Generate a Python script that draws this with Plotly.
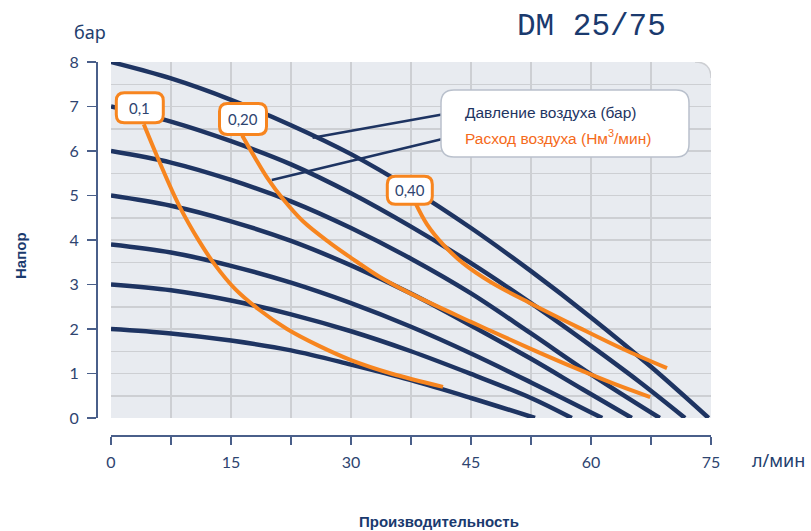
import plotly.graph_objects as go

W, H = 811, 531

# ---------------- data ----------------
flow_ticks = [0, 7.5, 15, 22.5, 30, 37.5, 45, 52.5, 60, 67.5, 75]
flow_tick_text = ["0", "", "15", "", "30", "", "45", "", "60", "", "75"]
head_ticks = [0, 1, 2, 3, 4, 5, 6, 7, 8]

# air pressure curves (bar): flow l/min vs head bar
p8_x = [0, 7.5, 15, 22.5, 30, 37.5, 45, 52.5, 60, 67.5, 74.7]
p8_y = [8.0, 7.63, 7.15, 6.58, 5.93, 5.15, 4.27, 3.3, 2.26, 1.15, 0.0]
p7_x = [0, 7.5, 15, 22.5, 30, 37.5, 45, 52.5, 60, 66, 71.75]
p7_y = [7.0, 6.66, 6.22, 5.7, 5.05, 4.3, 3.48, 2.58, 1.62, 0.82, 0.0]
p6_x = [0, 7.5, 15, 22.5, 30, 37.5, 45, 52.5, 60, 68.6]
p6_y = [6.0, 5.74, 5.35, 4.87, 4.27, 3.58, 2.8, 1.9, 0.98, 0.0]
p5_x = [0, 7.5, 15, 22.5, 30, 37.5, 45, 52.5, 59, 65.1]
p5_y = [5.0, 4.77, 4.42, 3.98, 3.43, 2.8, 2.08, 1.33, 0.64, 0.0]
p4_x = [0, 7.5, 15, 22.5, 30, 37.5, 45, 52.5, 61.4]
p4_y = [3.9, 3.72, 3.42, 3.04, 2.58, 2.05, 1.45, 0.8, 0.0]
p3_x = [0, 7.5, 15, 22.5, 30, 37.5, 45, 52.5, 57.6]
p3_y = [3.0, 2.87, 2.64, 2.33, 1.95, 1.5, 0.99, 0.45, 0.0]
p2_x = [0, 7.5, 15, 22.5, 30, 37.5, 45, 53]
p2_y = [2.0, 1.9, 1.74, 1.52, 1.2, 0.85, 0.45, 0.0]

# air consumption curves (Nm3/min)
q01_x = [4.1, 6.0, 8.5, 11, 13, 15.5, 18.4, 22, 26, 30, 35, 41.5]
q01_y = [6.6, 5.78, 4.78, 3.98, 3.44, 2.9, 2.45, 2.0, 1.62, 1.3, 1.0, 0.7]
q02_x = [16.4, 18, 19.6, 21.5, 24, 27.4, 30, 33.5, 37.4, 45, 52.4, 58.6, 63, 67.4]
q02_y = [6.35, 5.85, 5.38, 4.92, 4.42, 3.93, 3.6, 3.18, 2.8, 2.16, 1.56, 1.08, 0.76, 0.47]
q04_x = [38.0, 39.5, 41.5, 44, 47.5, 52.4, 58.6, 64, 69.5]
q04_y = [4.85, 4.35, 3.9, 3.48, 3.05, 2.58, 2.02, 1.55, 1.12]

consumption_labels = ["0,1", "0,20", "0,40"]
label_x = [3.6, 16.5, 37.35]
label_y = [6.97, 6.72, 5.12]
label_w = [47, 47, 45]
label_h = [30, 31, 28]

legend_texts = ["Давление воздуха (бар)", "Расход воздуха (Нм<sup>3</sup>/мин)"]

# ---------------- style ----------------
NAVY = "#1e3462"
ORANGE = "#f7851f"
AXIS = "#4a5f8a"
TICKTXT = "#2e4470"
GRID = "#cdcfd3"
BG = "#e8ebf0"

x_dom = [111 / W, 711 / W]
y_dom = [(H - 418) / H, (H - 62) / H]

fig = go.Figure()

for xs, ys in [(p2_x, p2_y), (p3_x, p3_y), (p4_x, p4_y), (p5_x, p5_y),
               (p6_x, p6_y), (p7_x, p7_y), (p8_x, p8_y)]:
    fig.add_trace(go.Scatter(x=xs, y=ys, mode="lines",
                             line=dict(color=NAVY, width=4.5, shape="spline", smoothing=1.0),
                             hoverinfo="skip", showlegend=False))

for xs, ys in [(q01_x, q01_y), (q02_x, q02_y), (q04_x, q04_y)]:
    fig.add_trace(go.Scatter(x=xs, y=ys, mode="lines",
                             line=dict(color=ORANGE, width=4, shape="spline", smoothing=1.0),
                             hoverinfo="skip", showlegend=False))


def rrect(w, h, r):
    x0, x1, y0, y1 = -w / 2, w / 2, -h / 2, h / 2
    return (f"M {x0 + r},{y0} L {x1 - r},{y0} Q {x1},{y0} {x1},{y0 + r} "
            f"L {x1},{y1 - r} Q {x1},{y1} {x1 - r},{y1} L {x0 + r},{y1} "
            f"Q {x0},{y1} {x0},{y1 - r} L {x0},{y0 + r} Q {x0},{y0} {x0 + r},{y0} Z")


shapes = []
# rounded top-right corner of plot area
rc = 16
shapes.append(dict(type="path", xref="x", yref="y", xsizemode="pixel", ysizemode="pixel",
                   xanchor=75, yanchor=8,
                   path=f"M {-rc},2 L 3,2 L 3,{-rc} L 0,{-rc} Q 0,0 {-rc},0 Z",
                   fillcolor="white", line=dict(width=0), layer="between"))
shapes.append(dict(type="path", xref="x", yref="y", xsizemode="pixel", ysizemode="pixel",
                   xanchor=75, yanchor=8,
                   path=f"M {-rc},0 Q 0,0 0,{-rc}",
                   line=dict(color=GRID, width=1.5), layer="between"))

# leader lines from legend
shapes.append(dict(type="line", xref="x", yref="y", x0=42.6, y0=6.86, x1=25.2, y1=6.3,
                   line=dict(color=NAVY, width=2.5), layer="above"))
shapes.append(dict(type="line", xref="x", yref="y", x0=42.6, y0=6.32, x1=20.1, y1=5.35,
                   line=dict(color=NAVY, width=2.5), layer="above"))
# legend box
shapes.append(dict(type="path", xref="x", yref="y", xsizemode="pixel", ysizemode="pixel",
                   xanchor=56.75, yanchor=6.62, path=rrect(248, 67, 13),
                   fillcolor="white", line=dict(color="#b9c0cc", width=1.5), layer="above"))
# label boxes
for lx, ly, lw, lh in zip(label_x, label_y, label_w, label_h):
    shapes.append(dict(type="path", xref="x", yref="y", xsizemode="pixel", ysizemode="pixel",
                       xanchor=lx, yanchor=ly, path=rrect(lw, lh, 8),
                       fillcolor="white", line=dict(color=ORANGE, width=3), layer="above"))

annotations = []
for t, lx, ly in zip(consumption_labels, label_x, label_y):
    annotations.append(dict(x=lx, y=ly, xref="x", yref="y", text=t, showarrow=False,
                            xanchor="center", yanchor="middle",
                            font=dict(family="Lato, Liberation Sans", size=15, color=TICKTXT)))
annotations.append(dict(x=44.0, y=6.86, xref="x", yref="y", text=legend_texts[0], showarrow=False,
                        xanchor="left", yanchor="middle",
                        font=dict(family="Liberation Sans", size=15.5, color=NAVY)))
annotations.append(dict(x=44.0, y=6.31, xref="x", yref="y", text=legend_texts[1], showarrow=False,
                        xanchor="left", yanchor="middle",
                        font=dict(family="Liberation Sans", size=15.5, color="#f56a1a")))
# titles
annotations.append(dict(x=591 / W, y=(H - 27) / H, xref="paper", yref="paper", text="DM 25/75",
                        xanchor="center", yanchor="middle", showarrow=False,
                        font=dict(family="Liberation Mono", size=31, color="#1a3a6e")))
annotations.append(dict(x=90 / W, y=(H - 32) / H, xref="paper", yref="paper", text="бар",
                        xanchor="center", yanchor="middle", showarrow=False,
                        font=dict(family="Noto Sans", size=18, color="#23406e")))
annotations.append(dict(x=750 / W, y=(H - 460) / H, xref="paper", yref="paper", text="л/мин",
                        xanchor="left", yanchor="middle", showarrow=False,
                        font=dict(family="Noto Sans", size=18, color="#23406e")))
annotations.append(dict(x=20 / W, y=(H - 256) / H, xref="paper", yref="paper", text="<b>Напор</b>",
                        textangle=-90, xanchor="center", yanchor="middle", showarrow=False,
                        font=dict(family="Liberation Sans", size=15, color="#1a3a6e")))
annotations.append(dict(x=439 / W, y=(H - 521) / H, xref="paper", yref="paper",
                        text="<b>Производительность</b>", xanchor="center", yanchor="middle",
                        showarrow=False,
                        font=dict(family="Liberation Sans", size=15, color="#1a3a6e")))

fig.update_layout(
    width=W, height=H,
    margin=dict(l=0, r=0, t=0, b=0, pad=0),
    paper_bgcolor="white", plot_bgcolor=BG,
    showlegend=False,
    xaxis=dict(domain=x_dom, range=[0, 75], anchor="free", position=(H - 435) / H,
               showline=True, linecolor=AXIS, linewidth=1.5,
               ticks="outside", ticklen=8, tickwidth=1.5, tickcolor=AXIS,
               tickmode="array", tickvals=flow_ticks, ticktext=flow_tick_text,
               tickfont=dict(family="Lato", size=16, color=TICKTXT), ticklabelstandoff=4,
               showgrid=True, gridcolor=GRID, gridwidth=1.5, zeroline=False, automargin=False),
    yaxis=dict(domain=y_dom, range=[0, 8], anchor="free", position=96 / W,
               showline=True, linecolor=AXIS, linewidth=1.5,
               ticks="outside", ticklen=9, tickwidth=1.5, tickcolor=AXIS,
               tickmode="array", tickvals=head_ticks,
               tickfont=dict(family="Lato", size=16, color=TICKTXT), ticklabelstandoff=5,
               showgrid=True, gridcolor=GRID, gridwidth=1.5, zeroline=False, automargin=False,
               minor=dict(dtick=0.5, tick0=0, showgrid=True, gridcolor=GRID, gridwidth=1.5, ticks="")),
    shapes=shapes,
    annotations=annotations,
)

fig.write_html("out.html", config={"displayModeBar": False, "staticPlot": True},
               post_script="document.body.style.margin='0px';document.body.style.overflow='hidden';")
